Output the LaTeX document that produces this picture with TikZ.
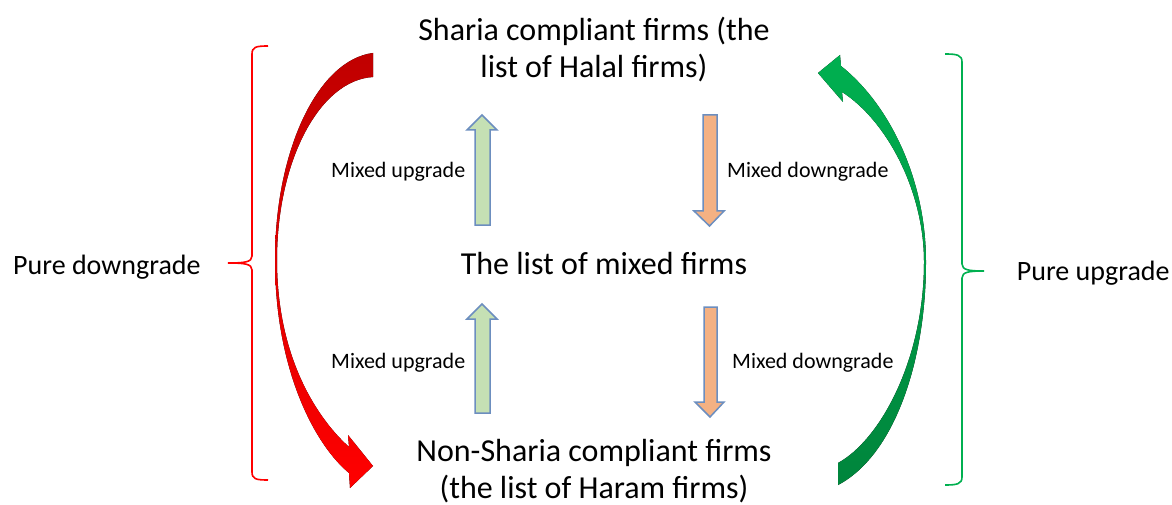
\documentclass[tikz,border=0pt]{standalone}
\usepackage{fontspec}
\setmainfont{Carlito}
\definecolor{redtop}{HTML}{C00000}
\definecolor{redbot}{HTML}{FF0000}
\definecolor{greentop}{HTML}{00B050}
\definecolor{greenbot}{HTML}{00853C}
\definecolor{upfill}{HTML}{C5E0B4}
\definecolor{downfill}{HTML}{F4B183}
\definecolor{blockline}{HTML}{6C8EBF}
\definecolor{bracered}{HTML}{FF0000}
\definecolor{bracegreen}{HTML}{00B050}
\begin{document}
\begin{tikzpicture}[x=1pt,y=-1pt,
  big/.style={font=\fontsize{32}{37}\selectfont, inner sep=0pt, align=center},
  pure/.style={font=\fontsize{28}{32}\selectfont, inner sep=0pt},
  small/.style={font=\fontsize{22}{26}\selectfont, inner sep=0pt},
  blockup/.style={fill=upfill, draw=blockline, line width=1.5pt, line join=miter},
  blockdown/.style={fill=downfill, draw=blockline, line width=1.5pt, line join=miter},
  redbrace/.style={draw=bracered, line width=1.6pt},
  greenbrace/.style={draw=bracegreen, line width=1.6pt}]
\useasboundingbox[fill=white] (0,0) rectangle (1172,505);

% texts
\node[big, anchor=base] (halal) at (594,78) {Sharia compliant firms (the\\list of Halal firms)};
\node[big, anchor=base] (mixed) at (604,274.5) {The list of mixed firms};
\node[big, anchor=base] (haram) at (594,498) {Non-Sharia compliant firms\\(the list of Haram firms)};
\node[pure, anchor=base west] (pd) at (13,274) {Pure downgrade};
\node[pure, anchor=base west] (pu) at (1016.7,280) {Pure upgrade};
\node[small, anchor=base west] (mu1) at (331,177.5) {Mixed upgrade};
\node[small, anchor=base west] (md1) at (727,177.5) {Mixed downgrade};
\node[small, anchor=base west] (mu2) at (331,368.5) {Mixed upgrade};
\node[small, anchor=base west] (md2) at (732,368.5) {Mixed downgrade};

% block arrows
\draw[blockup] (482,115) -- (497,130) -- (490,130) -- (490,225) -- (475,225) -- (475,130) -- (467,130) -- cycle;
\draw[blockup] (482,304) -- (497,319) -- (490,319) -- (490,413) -- (475,413) -- (475,319) -- (467,319) -- cycle;
\draw[blockdown] (703,115) -- (717,115) -- (717,211) -- (724,211) -- (709.5,226) -- (694,211) -- (703,211) -- cycle;
\draw[blockdown] (704,307) -- (717,307) -- (717,402) -- (724,402) -- (710,417) -- (695,402) -- (704,402) -- cycle;

% red curved arrow (pure downgrade)
\fill[top color=redtop, bottom color=redbot]
  (373,53) .. controls (318,60) and (275,150) .. (275,260)
  .. controls (275,370) and (315,445) .. (349,473)
  -- (350,488) -- (373,466) -- (348,435) -- (349,447)
  .. controls (319,420) and (277,360) .. (277,260)
  .. controls (277,160) and (320,80) .. (373,77) -- cycle;

% green curved arrow (pure upgrade)
\fill[top color=greentop, bottom color=greenbot]
  (841,66) .. controls (890,105) and (926,180) .. (926,262)
  .. controls (926,360) and (895,455) .. (838,485)
  -- (838,463) .. controls (880,440) and (924,360) .. (924,262)
  .. controls (924,190) and (886,120) .. (842,92)
  -- (843,102) -- (818,73) -- (840,55) -- cycle;

% braces
\draw[redbrace] (268,46) .. controls (256,46) and (252,47) .. (252,54) -- (252,256)
  .. controls (252,262) and (245,263) .. (228,263)
  .. controls (245,263) and (252,264) .. (252,270) -- (252,472)
  .. controls (252,479) and (256,480) .. (268,480);
\draw[greenbrace] (945,54) .. controls (957,54) and (962,55) .. (962,62) -- (962,264)
  .. controls (962,270) and (969,271) .. (984,271)
  .. controls (969,271) and (962,272) .. (962,278) -- (962,477)
  .. controls (962,484) and (957,485) .. (945,485);
\end{tikzpicture}
\end{document}
